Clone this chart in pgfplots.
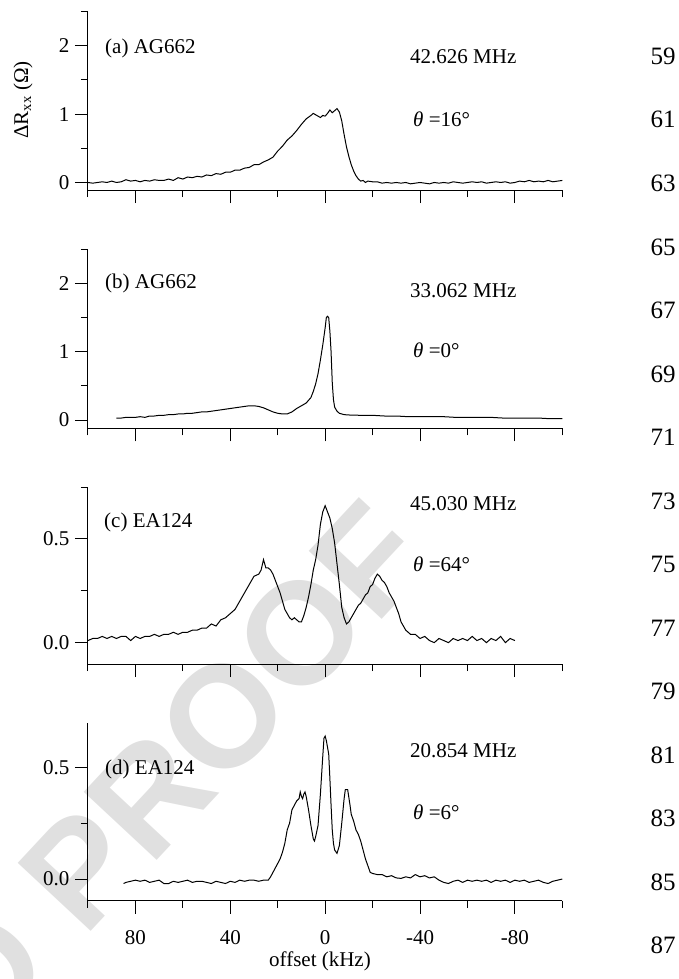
\documentclass[border=0pt]{standalone}
\usepackage{pgfplots}
\pgfplotsset{compat=1.18}
\usepackage{fontspec}
\setmainfont{Liberation Serif}
\newfontfamily\wmfont{Liberation Sans}

% one pt of the picture stands for one pixel of the reference
\newcommand{\txt}{\fontsize{21}{24}\selectfont}
\pgfplotsset{
  panel/.style={
    scale only axis, width=474.3pt,
    xmin=-100, xmax=100, x dir=reverse,
    axis lines=left, axis line style={-, line width=1pt},
    tick align=outside,
    xtick={-80,-40,0,40,80}, minor xtick={-100,-60,-20,20,60,100},
    major tick length=13pt, minor tick length=7pt,
    tick style={black, line width=1pt},
    tick label style={font=\txt},
    xticklabel style={yshift=-13pt},
    yticklabel style={xshift=-2pt},
    /pgf/number format/assume math mode=true,
    xticklabels={},
    clip=false,
  },
  curve/.style={black, line width=1pt, mark=none},
}

\begin{document}
\begin{tikzpicture}
\useasboundingbox (0pt,0pt) rectangle (679pt,-979pt);

% watermark
\begin{scope}
\clip (0pt,0pt) rectangle (679pt,-979pt);
\node[rotate=47, anchor=east, inner sep=0pt, text=black!12,
      font={\wmfont\bfseries\fontsize{145}{145}\selectfont}]
  at (400pt,-527pt) {UNCORRECTED PROOF};
\end{scope}

% (a)
\begin{axis}[panel, at={(88pt,-190pt)}, anchor=south west, height=178.5pt,
  ymin=-0.11, ymax=2.5, ytick={0,1,2}, minor ytick={0.5,1.5,2.5}]
\addplot[curve] coordinates {
(100,0.00) (98,-0.01) (96,0.00) (94,0.01) (92,0.00) (90,0.02) (88,0.00) (86,0.01)
(84,0.04) (82,0.02) (80,0.03) (78,0.01) (76,0.03) (74,0.02) (72,0.04) (70,0.03)
(68,0.03) (66,0.05) (64,0.03) (62,0.07) (60,0.05) (58,0.08) (56,0.07) (54,0.09)
(52,0.08) (50,0.11) (48,0.10) (46,0.13) (44,0.12) (42,0.15) (40,0.15) (38,0.18)
(36,0.18) (34,0.21) (32,0.22) (30,0.26) (28,0.26) (26,0.30) (24,0.33) (22,0.37)
(20,0.46) (18,0.53) (16,0.62) (14,0.68) (12,0.76) (10,0.85) (8,0.93) (6,0.98)
(5,1.01) (4,0.99) (3,0.97) (2,0.95) (1,0.98) (0,0.97) (-1,1.01) (-2,1.06)
(-3,1.02) (-4,1.05) (-5,1.08) (-6,1.03) (-7,0.90) (-8,0.70) (-9,0.52) (-10,0.38)
(-11,0.26) (-12,0.17) (-13,0.10) (-14,0.05) (-15,0.02) (-16,0.03) (-17,0.00) (-18,0.02)
(-20,0.01) (-22,0.01) (-24,-0.01) (-26,0.00) (-28,-0.01) (-30,0.00) (-32,-0.01) (-34,0.00)
(-36,-0.02) (-38,-0.01) (-40,0.00) (-42,-0.01) (-44,-0.02) (-46,0.00) (-48,-0.01) (-50,0.00)
(-52,-0.01) (-54,0.01) (-56,0.00) (-58,-0.01) (-60,0.00) (-62,0.01) (-64,0.00) (-66,0.01)
(-68,-0.01) (-70,0.00) (-72,0.01) (-74,0.00) (-76,0.01) (-78,-0.01) (-80,0.00) (-82,0.02)
(-84,0.01) (-86,0.03) (-88,0.01) (-90,0.02) (-92,0.01) (-94,0.03) (-96,0.01) (-98,0.02)
(-100,0.03)
};
\end{axis}

% (b)
\begin{axis}[panel, at={(88pt,-428.3pt)}, anchor=south west, height=179pt,
  ymin=-0.12, ymax=2.5, ytick={0,1,2}, minor ytick={0.5,1.5,2.5}]
\addplot[curve] coordinates {
(88,0.03) (86,0.03) (84,0.04) (82,0.04) (80,0.04) (78,0.05) (76,0.04) (74,0.06)
(72,0.06) (70,0.07) (68,0.07) (66,0.08) (64,0.08) (62,0.09) (60,0.09) (58,0.10)
(56,0.10) (54,0.11) (52,0.12) (50,0.12) (48,0.13) (46,0.14) (44,0.15) (42,0.16)
(40,0.17) (38,0.18) (36,0.19) (34,0.20) (32,0.21) (30,0.21) (28,0.20) (26,0.18)
(24,0.15) (22,0.12) (20,0.10) (18,0.09) (16,0.09) (14,0.12) (12,0.17) (10,0.21)
(8,0.25) (6,0.33) (5,0.42) (4,0.53) (3,0.68) (2,0.88) (1,1.10) (0,1.35)
(-0.5,1.50) (-1,1.52) (-1.5,1.50) (-2,1.30) (-2.5,1.00) (-3,0.55) (-3.5,0.30) (-4,0.19)
(-5,0.13) (-6,0.10) (-8,0.08) (-10,0.075) (-15,0.07) (-20,0.07) (-25,0.06) (-30,0.06)
(-35,0.05) (-40,0.05) (-45,0.05) (-50,0.05) (-55,0.04) (-60,0.04) (-65,0.04) (-70,0.04)
(-75,0.03) (-80,0.03) (-85,0.03) (-90,0.03) (-95,0.02) (-100,0.02)
};
\end{axis}

% (c)
\begin{axis}[panel, at={(88pt,-664pt)}, anchor=south west, height=177pt,
  ymin=-0.103, ymax=0.75, ytick={0,0.5}, yticklabels={0.0,0.5},
  minor ytick={0.25,0.75}]
\addplot[curve] coordinates {
(100,0.01) (98,0.02) (96,0.02) (94,0.03) (92,0.02) (90,0.03) (88,0.02) (86,0.03)
(84,0.03) (82,0.01) (80,0.03) (78,0.02) (76,0.03) (74,0.03) (72,0.04) (70,0.03)
(68,0.04) (66,0.04) (64,0.05) (62,0.04) (60,0.05) (58,0.05) (56,0.06) (54,0.06)
(52,0.07) (50,0.07) (48,0.09) (46,0.08) (44,0.11) (42,0.12) (40,0.14) (38,0.16)
(36,0.20) (34,0.24) (32,0.28) (30,0.32) (28,0.33) (27,0.35) (26,0.40) (25,0.36)
(24,0.36) (23,0.35) (22,0.33) (21,0.30) (20,0.27) (19,0.24) (18,0.20) (17,0.16)
(16,0.14) (15,0.12) (14,0.11) (13,0.12) (12,0.11) (11,0.10) (10,0.10) (9,0.13)
(8,0.17) (7,0.22) (6,0.28) (5,0.35) (4,0.40) (3,0.47) (2,0.57) (1,0.63)
(0,0.66) (-1,0.63) (-2,0.60) (-3,0.55) (-4,0.48) (-5,0.38) (-6,0.28) (-7,0.17)
(-8,0.12) (-9,0.09) (-10,0.10) (-11,0.12) (-12,0.14) (-13,0.16) (-14,0.18) (-15,0.19)
(-16,0.21) (-17,0.23) (-18,0.24) (-19,0.27) (-20,0.28) (-21,0.31) (-22,0.33) (-23,0.32)
(-24,0.30) (-25,0.29) (-26,0.27) (-27,0.24) (-28,0.22) (-29,0.20) (-30,0.17) (-31,0.14)
(-32,0.10) (-33,0.08) (-34,0.06) (-36,0.04) (-38,0.04) (-40,0.02) (-42,0.03) (-44,0.01)
(-46,0.00) (-48,0.02) (-50,0.01) (-52,0.00) (-54,0.02) (-56,0.01) (-58,0.02) (-60,0.01)
(-62,0.03) (-64,0.01) (-66,0.02) (-68,0.00) (-70,0.02) (-72,0.01) (-74,0.03) (-76,0.00)
(-78,0.02) (-80,0.01)
};
\end{axis}

% (d)
\begin{axis}[panel, at={(88pt,-900.7pt)}, anchor=south west, height=178pt,
  ymin=-0.097, ymax=0.7, ytick={0,0.5}, yticklabels={0.0,0.5},
  minor ytick={0.25}, xtick={80,40,0,-40,-80}, xticklabels={80,40,0,-40,-80}]
\addplot[curve] coordinates {
(85,-0.02) (84,-0.015) (82,-0.01) (80,-0.005) (78,-0.01) (76,-0.005) (74,-0.015) (72,-0.01)
(70,-0.005) (68,-0.02) (66,-0.02) (64,-0.01) (62,-0.015) (60,-0.01) (58,-0.005) (56,-0.015)
(54,-0.01) (52,-0.01) (50,-0.015) (48,-0.02) (46,-0.01) (44,-0.015) (42,-0.02) (40,-0.01)
(38,-0.015) (36,-0.005) (34,-0.01) (32,-0.005) (30,-0.005) (28,-0.01) (26,-0.005) (24,-0.005)
(23,0.01) (22,0.03) (21,0.05) (20,0.07) (19,0.09) (18,0.12) (17,0.16) (16,0.22)
(15,0.25) (14,0.31) (13,0.33) (12,0.35) (11,0.36) (10.5,0.39) (10,0.37) (9.5,0.36)
(9,0.38) (8.5,0.39) (8,0.37) (7,0.31) (6,0.24) (5,0.18) (4.5,0.17) (4,0.19)
(3,0.24) (2,0.38) (1,0.55) (0.5,0.63) (0,0.64) (-0.5,0.62) (-1,0.59) (-1.5,0.56)
(-2,0.45) (-2.5,0.33) (-3,0.22) (-3.5,0.16) (-4,0.13) (-5,0.115) (-6,0.15) (-7,0.25)
(-8,0.36) (-8.5,0.40) (-9.5,0.40) (-10.5,0.33) (-11,0.29) (-12,0.26) (-13,0.22) (-14,0.20)
(-15,0.17) (-16,0.13) (-17,0.09) (-18,0.06) (-19,0.03) (-20,0.025) (-22,0.02) (-24,0.02)
(-26,0.01) (-28,0.015) (-30,0.005) (-32,0.003) (-34,0.01) (-36,0.005) (-38,0.02) (-40,0.01)
(-42,0.015) (-44,0.005) (-46,0.01) (-48,-0.005) (-50,-0.015) (-52,-0.02) (-54,-0.01) (-56,-0.005)
(-58,-0.015) (-60,-0.005) (-62,-0.01) (-64,-0.005) (-66,-0.01) (-68,-0.005) (-70,-0.015) (-72,-0.005)
(-74,-0.01) (-76,-0.005) (-78,-0.015) (-80,-0.005) (-82,-0.01) (-84,-0.005) (-86,-0.015) (-88,-0.01)
(-90,-0.005) (-92,-0.015) (-94,-0.02) (-96,-0.01) (-98,-0.005) (-100,0.0)
};
\end{axis}

% texts, placed in reference pixels (y downwards)
\begin{scope}[x=1pt, y=-1pt, every node/.style={font=\txt, inner sep=0pt}]
\node[anchor=base west] at (105,53.3) {(a) AG662};
\node[anchor=base west] at (105,288.3) {(b) AG662};
\node[anchor=base west] at (104,527) {(c) EA124};
\node[anchor=base west] at (105,774) {(d) EA124};
\node[anchor=base west] at (410,63.3) {42.626 MHz};
\node[anchor=base west] at (410,297) {33.062 MHz};
\node[anchor=base west] at (410,510.7) {45.030 MHz};
\node[anchor=base west] at (410,757) {20.854 MHz};
\node[anchor=base west] at (413,126) {\textit{θ} =16°};
\node[anchor=base west] at (413,357) {\textit{θ} =0°};
\node[anchor=base west] at (413,571) {\textit{θ} =64°};
\node[anchor=base west] at (413,819) {\textit{θ} =6°};
\node[rotate=90] at (23,100) {ΔR\textsubscript{xx} (Ω)};
\node[anchor=base] at (320,966) {offset (kHz)};
\foreach \n [count=\k from 0] in {59,61,...,87}
  \node[anchor=base, font=\fontsize{25}{28}\selectfont] at (663,{64.5+63.5*\k}) {\n};
\end{scope}
\end{tikzpicture}
\end{document}
